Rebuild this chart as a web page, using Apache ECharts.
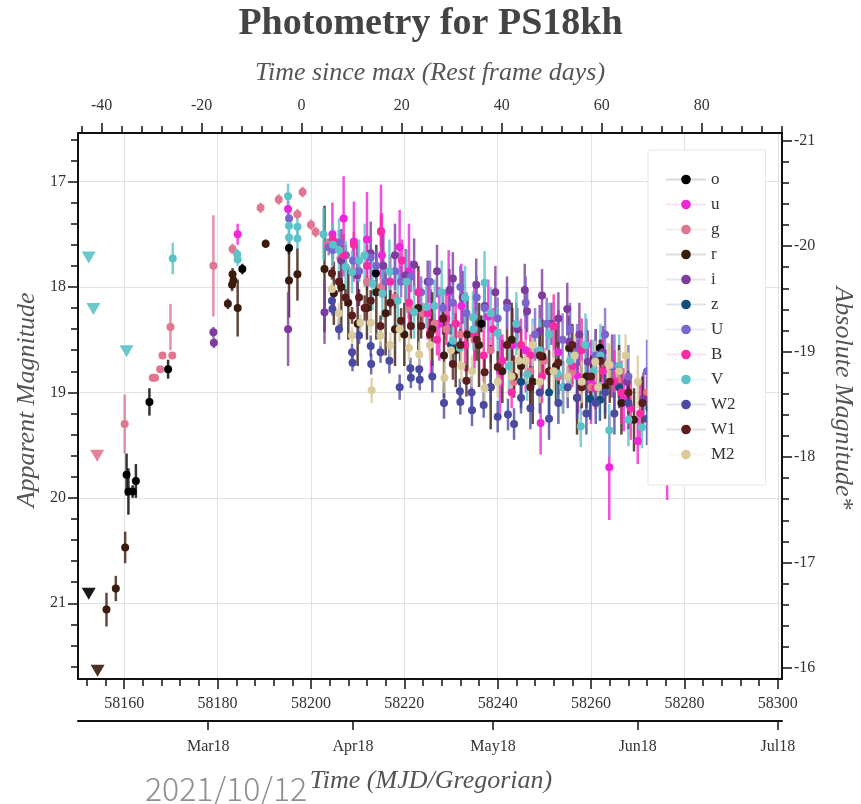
<!DOCTYPE html>
<html>
<head>
<meta charset="utf-8">
<script src="https://cdn.jsdelivr.net/npm/echarts@6/dist/echarts.min.js"></script>
<style>
  html, body { margin: 0; padding: 0; background: #fff; }
  #chart { width: 861px; height: 804px; }
</style>
</head>
<body>
<div id="chart"></div>
<script>
// Photometry of PS18kh: [MJD, apparent magnitude, 1-sigma error]
const bandO = [
  [58160.5, 19.78, 0.20], [58160.9, 19.94, 0.22], [58161.8, 19.94, 0.06],
  [58162.5, 19.84, 0.16], [58165.4, 19.09, 0.13], [58169.4, 18.78, 0.09],
  [58185.3, 17.83, 0.05], [58195.3, 17.63, 0.06], [58213.9, 17.87, 0.05],
  [58236.5, 18.35, 0.08], [58261.9, 18.58, 0.08]
];
const bandu = [
  [58184.3, 17.50, 0.10], [58195.1, 17.26, 0.08], [58204.6, 17.50, 0.30],
  [58207.0, 17.35, 0.40], [58209.2, 17.57, 0.38], [58212.0, 17.55, 0.45],
  [58215.0, 17.48, 0.45], [58215.2, 17.70, 0.40], [58219.0, 17.62, 0.35],
  [58221.0, 17.85, 0.45], [58225.7, 18.42, 0.40], [58227.5, 18.35, 0.35],
  [58229.5, 18.05, 0.40], [58232.2, 18.18, 0.40], [58235.0, 18.40, 0.40],
  [58238.0, 18.28, 0.35], [58240.5, 18.80, 0.40], [58243.2, 18.55, 0.35],
  [58246.0, 18.60, 0.40], [58249.2, 19.29, 0.30], [58253.0, 18.62, 0.40],
  [58257.2, 18.85, 0.35], [58260.0, 18.90, 0.40], [58263.9, 19.71, 0.50],
  [58267.0, 19.07, 0.30], [58270.0, 19.46, 0.22], [58276.3, 19.55, 0.47]
];
const bandg = [
  [58160.1, 19.30, 0.28], [58166.1, 18.86, 0.03], [58166.6, 18.86, 0.03],
  [58167.7, 18.78, 0.03], [58168.2, 18.65, 0.03], [58169.9, 18.38, 0.22],
  [58170.3, 18.65, 0.03], [58179.1, 17.80, 0.48], [58183.2, 17.64, 0.05],
  [58189.2, 17.25, 0.05], [58193.1, 17.17, 0.05], [58197.1, 17.31, 0.05],
  [58198.2, 17.10, 0.05], [58200.0, 17.41, 0.05], [58201.0, 17.48, 0.05],
  [58203.5, 17.60, 0.06], [58206.3, 17.73, 0.06], [58209.0, 17.85, 0.08],
  [58212.0, 17.95, 0.08], [58215.0, 18.00, 0.10], [58218.0, 18.10, 0.10],
  [58221.0, 18.20, 0.10], [58224.0, 18.25, 0.10], [58226.5, 18.35, 0.10],
  [58229.0, 18.40, 0.10], [58232.0, 18.45, 0.12], [58235.0, 18.50, 0.12],
  [58238.5, 18.60, 0.12], [58243.5, 18.90, 0.10], [58247.0, 18.80, 0.12],
  [58250.0, 18.70, 0.12], [58253.0, 18.85, 0.12], [58256.0, 18.80, 0.12],
  [58260.0, 18.95, 0.12], [58265.7, 18.89, 0.10], [58272.0, 19.00, 0.15]
];
const bandr = [
  [58156.2, 21.06, 0.16], [58158.2, 20.86, 0.12], [58160.2, 20.47, 0.15],
  [58182.2, 18.16, 0.05], [58183.2, 17.88, 0.06], [58183.1, 17.98, 0.06],
  [58183.4, 17.94, 0.05], [58184.3, 18.20, 0.27], [58190.3, 17.59, 0.04],
  [58195.3, 17.94, 0.35], [58197.1, 17.88, 0.25], [58202.9, 17.83, 0.60],
  [58204.9, 18.06, 0.30], [58206.5, 18.00, 0.40], [58208.0, 18.15, 0.35],
  [58210.0, 18.35, 0.40], [58212.0, 18.20, 0.30], [58214.0, 18.05, 0.45],
  [58216.0, 18.25, 0.40], [58218.0, 18.40, 0.35], [58220.0, 18.45, 0.30],
  [58223.0, 18.20, 0.40], [58226.0, 18.40, 0.35], [58228.5, 18.65, 0.40],
  [58231.0, 18.60, 0.35], [58233.5, 18.45, 0.35], [58236.0, 18.55, 0.40],
  [58238.5, 18.95, 0.40], [58241.0, 18.80, 0.30], [58243.0, 18.50, 0.35],
  [58245.0, 18.75, 0.35], [58247.5, 18.90, 0.40], [58249.6, 18.66, 0.35],
  [58252.5, 18.75, 0.35], [58255.3, 18.58, 0.30], [58257.0, 19.05, 0.35],
  [58259.0, 18.85, 0.30], [58261.0, 18.70, 0.30], [58263.0, 18.95, 0.30],
  [58266.5, 19.10, 0.30], [58269.2, 19.26, 0.30]
];
const bandi = [
  [58179.1, 18.43, 0.05], [58179.2, 18.53, 0.05], [58195.1, 18.40, 0.35],
  [58202.9, 18.24, 0.30], [58206.5, 17.75, 0.30], [58209.9, 17.89, 0.30],
  [58212.8, 17.68, 0.30], [58215.5, 17.80, 0.30], [58218.0, 17.70, 0.30],
  [58220.3, 17.89, 0.25], [58222.1, 17.79, 0.25], [58225.0, 17.95, 0.20],
  [58227.0, 17.85, 0.25], [58229.7, 18.03, 0.20], [58230.4, 17.92, 0.25],
  [58232.5, 18.10, 0.25], [58235.4, 17.98, 0.25], [58237.2, 18.18, 0.20],
  [58239.5, 18.05, 0.25], [58242.0, 18.15, 0.25], [58244.2, 18.40, 0.20],
  [58245.8, 18.03, 0.25], [58246.3, 18.23, 0.20], [58249.0, 18.42, 0.25],
  [58249.5, 18.08, 0.25], [58251.5, 18.35, 0.20], [58253.0, 18.30, 0.25],
  [58254.9, 18.21, 0.25], [58255.3, 18.52, 0.25], [58257.5, 18.45, 0.30],
  [58259.3, 18.71, 0.30], [58262.5, 18.62, 0.25], [58264.5, 18.75, 0.30],
  [58267.7, 18.90, 0.25], [58271.2, 19.06, 0.25]
];
const bandz = [
  [58230.0, 18.55, 0.20], [58245.0, 18.90, 0.25], [58251.0, 19.00, 0.25],
  [58259.8, 19.06, 0.20], [58261.9, 19.07, 0.20], [58266.0, 18.95, 0.20],
  [58272.5, 19.15, 0.30]
];
const bandUU = [
  [58195.3, 17.35, 0.05], [58203.8, 17.62, 0.08], [58204.7, 17.65, 0.08],
  [58206.0, 17.58, 0.12], [58207.5, 17.70, 0.10], [58209.0, 17.75, 0.15],
  [58210.3, 17.85, 0.10], [58212.8, 17.72, 0.12], [58214.0, 17.80, 0.15],
  [58216.0, 17.95, 0.12], [58218.0, 17.85, 0.18], [58219.3, 17.95, 0.15],
  [58221.4, 17.90, 0.15], [58223.6, 18.05, 0.15], [58225.5, 17.95, 0.20],
  [58228.3, 18.20, 0.15], [58230.4, 18.15, 0.20], [58232.0, 18.00, 0.20],
  [58233.3, 18.25, 0.20], [58235.5, 18.10, 0.20], [58237.2, 18.20, 0.20],
  [58240.0, 18.30, 0.20], [58242.0, 18.20, 0.20], [58244.0, 18.35, 0.20],
  [58246.0, 18.15, 0.25], [58248.0, 18.45, 0.25], [58250.5, 18.35, 0.25],
  [58253.9, 18.50, 0.25], [58255.5, 18.40, 0.25], [58257.0, 18.60, 0.25],
  [58259.0, 18.55, 0.25], [58261.0, 18.65, 0.25], [58263.0, 18.45, 0.25],
  [58265.0, 18.75, 0.30], [58268.0, 18.85, 0.30], [58272.0, 18.80, 0.30]
];
const bandB = [
  [58204.7, 17.55, 0.10], [58207.0, 17.70, 0.20], [58209.2, 17.60, 0.12],
  [58212.0, 17.80, 0.20], [58215.0, 17.47, 0.15], [58217.0, 17.95, 0.25],
  [58219.5, 17.75, 0.20], [58221.0, 18.15, 0.25], [58223.0, 18.05, 0.20],
  [58225.0, 18.25, 0.25], [58227.0, 18.50, 0.15], [58229.0, 18.30, 0.25],
  [58231.0, 18.35, 0.20], [58233.0, 18.55, 0.25], [58235.0, 18.45, 0.25],
  [58237.0, 18.65, 0.25], [58239.0, 18.40, 0.20], [58241.0, 18.70, 0.25],
  [58243.0, 19.00, 0.15], [58245.0, 18.55, 0.25], [58247.0, 18.65, 0.20],
  [58249.5, 18.85, 0.25], [58252.0, 18.37, 0.30], [58254.0, 18.95, 0.25],
  [58256.0, 18.75, 0.20], [58258.0, 18.60, 0.30], [58260.9, 18.96, 0.20],
  [58262.5, 18.80, 0.30], [58265.0, 18.90, 0.30], [58266.5, 19.00, 0.30],
  [58268.5, 19.15, 0.30], [58270.5, 19.20, 0.30]
];
const bandV = [
  [58170.4, 17.73, 0.15], [58184.3, 17.74, 0.06], [58184.2, 17.69, 0.05],
  [58195.1, 17.14, 0.12], [58195.3, 17.42, 0.10], [58195.3, 17.53, 0.10],
  [58197.1, 17.43, 0.10], [58197.1, 17.54, 0.10], [58202.7, 17.50, 0.25],
  [58204.7, 17.60, 0.20], [58206.0, 17.65, 0.30], [58207.4, 17.81, 0.25],
  [58208.8, 17.86, 0.20], [58210.3, 17.75, 0.20], [58211.5, 17.70, 0.30],
  [58213.2, 17.97, 0.25], [58215.3, 18.06, 0.25], [58216.8, 17.85, 0.30],
  [58218.6, 18.13, 0.30], [58220.5, 17.95, 0.30], [58222.1, 18.24, 0.25],
  [58224.7, 18.19, 0.20], [58226.5, 18.18, 0.25], [58228.0, 18.05, 0.30],
  [58230.4, 18.51, 0.25], [58231.9, 18.58, 0.20], [58233.0, 18.10, 0.30],
  [58234.7, 18.29, 0.25], [58234.8, 18.40, 0.20], [58237.2, 17.96, 0.30],
  [58238.5, 18.25, 0.25], [58240.0, 18.44, 0.25], [58242.4, 18.75, 0.25],
  [58244.0, 18.35, 0.30], [58246.3, 18.83, 0.25], [58247.5, 18.55, 0.25],
  [58249.0, 18.60, 0.30], [58251.0, 18.45, 0.30], [58252.8, 18.82, 0.25],
  [58254.0, 18.95, 0.25], [58255.5, 18.70, 0.25], [58257.8, 19.32, 0.20],
  [58258.8, 18.55, 0.30], [58260.5, 18.80, 0.30], [58262.0, 18.65, 0.30],
  [58263.9, 19.36, 0.25], [58266.0, 18.75, 0.30], [58268.0, 19.26, 0.25],
  [58270.9, 19.33, 0.20]
];
const bandW2 = [
  [58204.5, 18.13, 0.06], [58204.6, 18.21, 0.06], [58206.0, 18.40, 0.10],
  [58208.8, 18.62, 0.08], [58208.9, 18.72, 0.08], [58210.3, 18.46, 0.08],
  [58212.8, 18.56, 0.10], [58212.9, 18.73, 0.10], [58214.9, 18.62, 0.10],
  [58216.8, 18.70, 0.12], [58219.0, 18.95, 0.12], [58221.3, 18.77, 0.10],
  [58221.4, 18.86, 0.10], [58223.2, 18.78, 0.10], [58223.3, 18.88, 0.10],
  [58226.0, 18.85, 0.15], [58228.5, 19.10, 0.15], [58231.9, 18.99, 0.12],
  [58232.0, 19.09, 0.12], [58234.4, 19.00, 0.15], [58234.5, 19.17, 0.15],
  [58237.0, 19.12, 0.12], [58238.5, 18.95, 0.15], [58240.0, 19.23, 0.15],
  [58242.2, 19.21, 0.15], [58243.5, 19.30, 0.15], [58245.0, 19.05, 0.15],
  [58247.0, 19.15, 0.20], [58249.0, 19.00, 0.20], [58251.0, 19.25, 0.20],
  [58253.0, 19.10, 0.20], [58255.0, 18.95, 0.20], [58257.0, 19.05, 0.20],
  [58259.0, 19.20, 0.20], [58261.0, 19.10, 0.20], [58263.0, 19.00, 0.20],
  [58265.0, 19.20, 0.20], [58268.0, 19.10, 0.25], [58272.0, 19.25, 0.25]
];
const bandW1 = [
  [58204.5, 17.87, 0.06], [58206.0, 17.95, 0.10], [58207.4, 18.10, 0.08],
  [58208.8, 18.27, 0.08], [58210.3, 18.10, 0.08], [58211.5, 18.20, 0.12],
  [58212.8, 18.13, 0.10], [58214.9, 18.37, 0.10], [58217.0, 18.15, 0.12],
  [58219.3, 18.32, 0.12], [58221.4, 18.37, 0.12], [58223.6, 18.37, 0.12],
  [58225.5, 18.45, 0.15], [58228.3, 18.30, 0.15], [58230.4, 18.73, 0.15],
  [58232.0, 18.55, 0.15], [58233.3, 18.89, 0.15], [58235.5, 18.50, 0.20],
  [58237.2, 18.81, 0.15], [58240.0, 18.76, 0.15], [58242.0, 18.55, 0.15],
  [58243.5, 18.85, 0.20], [58245.0, 18.70, 0.15], [58247.0, 18.95, 0.20],
  [58249.0, 18.65, 0.20], [58251.0, 18.80, 0.20], [58253.0, 18.72, 0.20],
  [58256.0, 18.55, 0.20], [58258.0, 18.95, 0.20], [58260.0, 18.85, 0.20],
  [58262.0, 18.70, 0.20], [58264.0, 18.90, 0.20], [58266.0, 18.80, 0.25],
  [58268.0, 19.00, 0.20], [58271.0, 19.10, 0.25]
];
const bandM2 = [
  [58204.5, 18.02, 0.06], [58206.0, 18.25, 0.10], [58208.8, 18.46, 0.08],
  [58210.6, 18.34, 0.08], [58212.8, 18.34, 0.10], [58213.0, 18.98, 0.12],
  [58214.9, 18.46, 0.10], [58217.0, 18.55, 0.12], [58219.0, 18.40, 0.12],
  [58221.0, 18.58, 0.12], [58223.2, 18.64, 0.12], [58225.5, 18.55, 0.15],
  [58228.6, 18.86, 0.15], [58230.0, 18.60, 0.15], [58232.2, 18.75, 0.15],
  [58234.5, 18.80, 0.15], [58237.2, 18.96, 0.15], [58240.0, 18.90, 0.15],
  [58243.0, 18.85, 0.15], [58244.5, 18.70, 0.20], [58246.0, 18.70, 0.20],
  [58247.5, 18.55, 0.20], [58249.0, 18.90, 0.20], [58252.0, 18.80, 0.20],
  [58255.0, 18.85, 0.20], [58256.5, 18.65, 0.20], [58258.0, 18.90, 0.20],
  [58260.9, 18.71, 0.20], [58261.5, 18.95, 0.20], [58263.7, 18.73, 0.20],
  [58264.0, 18.74, 0.20], [58266.0, 18.80, 0.20], [58267.4, 18.65, 0.20],
  [58270.0, 18.90, 0.25]
];

// Non-detections (upper limits): [MJD, limiting magnitude]
const limO = [[58152.4, 20.91]];
const limg = [[58154.2, 19.60]];
const limr = [[58154.3, 21.64]];
const limV = [[58152.4, 17.72], [58153.4, 18.21], [58160.5, 18.61]];

// Filters in legend order with their colours
const bandNames = ['o', 'u', 'g', 'r', 'i', 'z', 'U', 'B', 'V', 'W2', 'W1', 'M2'];
const bandColors = ['#000000', '#ec26d9', '#e0768f', '#3a1c0e', '#7e3d9e', '#0f4f7f',
                    '#7b66cf', '#f92aa6', '#5bc3c8', '#4a4aa0', '#5a1c1c', '#dacb9f'];
const bandData = [bandO, bandu, bandg, bandr, bandi, bandz, bandUU, bandB, bandV, bandW2, bandW1, bandM2];
const bandLimits = { o: limO, g: limg, r: limr, V: limV };

// Axis ticks and labels
const mjdTicks = [58160, 58180, 58200, 58220, 58240, 58260, 58280, 58300];
const restTicks = [-40, -20, 0, 20, 40, 60, 80];
const appTicks = [17, 18, 19, 20, 21];
const absTicks = [-21, -20, -19, -18, -17, -16];
const monthTicks = [58178, 58209, 58239, 58270, 58300];
const monthLabels = ['Mar18', 'Apr18', 'May18', 'Jun18', 'Jul18'];

// Cosmology for the secondary scales
const mjdPeak = 58198.0;
const onePlusZ = 1.0714;
const distMod = 37.613;

const mjdMin = 58150.1, mjdMax = 58300.9;
const magMin = 16.540, magMax = 21.718;

function range(a, b, step, skip) {
  const out = [];
  for (let v = a; v <= b + 1e-9; v += step) {
    const r = Math.round(v * 1000) / 1000;
    if (!skip(r)) out.push(r);
  }
  return out;
}
const mjdMinor = range(58152, 58300, 4, v => (v - 58160) % 20 === 0);
const restMinor = range(-44, 96, 4, v => v % 20 === 0);
const appMinor = range(16.6, 21.6, 0.2, v => Math.abs(v - Math.round(v)) < 1e-6);
const absMinor = range(-21.0, -15.9, 0.2, v => Math.abs(v - Math.round(v)) < 1e-6);

const serif = "'Liberation Serif', 'Times New Roman', serif";
const lineCol = '#111';
const labelStyle = { fontFamily: serif, fontSize: 16, color: '#333' };

function helperAxis(base, values, length) {
  return Object.assign({
    type: 'value',
    axisLine: { show: false },
    axisLabel: { show: false },
    splitLine: { show: false },
    axisTick: { show: true, customValues: values, length: length, lineStyle: { color: lineCol, width: 1.5 } }
  }, base);
}

const xAxes = [
  { // MJD
    type: 'value', position: 'bottom', min: mjdMin, max: mjdMax,
    axisLine: { show: true, onZero: false, lineStyle: { color: lineCol, width: 2 } },
    axisTick: { show: true, customValues: mjdTicks, length: 10, lineStyle: { color: lineCol, width: 1.5 } },
    axisLabel: Object.assign({ customValues: mjdTicks, margin: 17, formatter: v => String(Math.round(v)) }, labelStyle),
    splitLine: { show: true, lineStyle: { color: '#e2e2e2', width: 1 } }
  },
  helperAxis({ position: 'bottom', min: mjdMin, max: mjdMax, axisLine: { show: false, onZero: false } }, mjdMinor, 7),
  { // calendar months
    type: 'value', position: 'bottom', offset: 42, min: mjdMin, max: mjdMax,
    axisLine: { show: true, onZero: false, lineStyle: { color: lineCol, width: 2 } },
    axisTick: { show: true, customValues: monthTicks, length: 9, lineStyle: { color: lineCol, width: 1.5 } },
    axisLabel: Object.assign({
      customValues: monthTicks, margin: 18,
      formatter: v => monthLabels[monthTicks.indexOf(Math.round(v))] || ''
    }, labelStyle),
    splitLine: { show: false }
  },
  { // rest-frame days since maximum
    type: 'value', position: 'top',
    min: (mjdMin - mjdPeak) / onePlusZ, max: (mjdMax - mjdPeak) / onePlusZ,
    axisLine: { show: true, onZero: false, lineStyle: { color: lineCol, width: 2 } },
    axisTick: { show: true, customValues: restTicks, length: 10, lineStyle: { color: lineCol, width: 1.5 } },
    axisLabel: Object.assign({ customValues: restTicks, margin: 19 }, labelStyle),
    splitLine: { show: false }
  },
  helperAxis({ position: 'top', min: (mjdMin - mjdPeak) / onePlusZ, max: (mjdMax - mjdPeak) / onePlusZ,
               axisLine: { show: false, onZero: false } }, restMinor, 7)
];

const yAxes = [
  { // apparent magnitude
    type: 'value', position: 'left', inverse: true, min: magMin, max: magMax,
    axisLine: { show: true, onZero: false, lineStyle: { color: lineCol, width: 2 } },
    axisTick: { show: true, customValues: appTicks, length: 10, lineStyle: { color: lineCol, width: 1.5 } },
    axisLabel: Object.assign({ customValues: appTicks, margin: 12 }, labelStyle),
    splitLine: { show: true, lineStyle: { color: '#e2e2e2', width: 1 } }
  },
  helperAxis({ position: 'left', inverse: true, min: magMin, max: magMax, axisLine: { show: false, onZero: false } }, appMinor, 7),
  { // absolute magnitude
    type: 'value', position: 'right', inverse: true, min: magMin - distMod, max: magMax - distMod,
    axisLine: { show: true, onZero: false, lineStyle: { color: lineCol, width: 2 } },
    axisTick: { show: true, customValues: absTicks, length: 10, lineStyle: { color: lineCol, width: 1.5 } },
    axisLabel: Object.assign({ customValues: absTicks, margin: 12 }, labelStyle),
    splitLine: { show: false }
  },
  helperAxis({ position: 'right', inverse: true, min: magMin - distMod, max: magMax - distMod,
               axisLine: { show: false, onZero: false } }, absMinor, 7)
];

const series = [];
bandNames.forEach((name, k) => {
  const color = bandColors[k];
  series.push({
    name: name + ' error',
    type: 'custom',
    xAxisIndex: 0, yAxisIndex: 0,
    clip: true,
    silent: true,
    data: bandData[k],
    encode: { x: 0, y: 1 },
    renderItem: (params, api) => {
      const x = api.value(0), m = api.value(1), e = api.value(2);
      const p1 = api.coord([x, m - e]);
      const p2 = api.coord([x, m + e]);
      return {
        type: 'line',
        shape: { x1: p1[0], y1: p1[1], x2: p2[0], y2: p2[1] },
        style: { stroke: color, lineWidth: 2.5, opacity: 0.8 }
      };
    }
  });
  series.push({
    name: name,
    type: 'line',
    xAxisIndex: 0, yAxisIndex: 0,
    data: bandData[k].map(d => [d[0], d[1]]),
    symbol: 'circle',
    symbolSize: 8,
    showSymbol: true,
    showAllSymbol: true,
    clip: true,
    silent: true,
    color: color,
    itemStyle: { color: color },
    lineStyle: { opacity: 0, width: 0 },
    emphasis: { disabled: true }
  });
  if (bandLimits[name]) {
    series.push({
      name: name + ' limit',
      type: 'scatter',
      xAxisIndex: 0, yAxisIndex: 0,
      data: bandLimits[name],
      symbol: 'triangle',
      symbolRotate: 180,
      symbolSize: [14, 12],
      itemStyle: { color: color, opacity: 0.9 },
      silent: true
    });
  }
});

const chart = echarts.init(document.getElementById('chart'), null, { renderer: 'canvas' });
chart.setOption({
  animation: false,
  backgroundColor: '#ffffff',
  grid: { left: 78, top: 133, width: 704, height: 546, containLabel: false },
  xAxis: xAxes,
  yAxis: yAxes,
  legend: {
    data: bandNames,
    orient: 'vertical',
    left: 648, top: 150,
    padding: [21, 30, 22, 17],
    itemWidth: 40, itemHeight: 12, itemGap: 8,
    backgroundColor: '#ffffff',
    borderColor: '#e6e6e6', borderWidth: 1,
    lineStyle: { width: 2, opacity: 0.15 },
    textStyle: { fontFamily: serif, fontSize: 17, color: '#333', lineHeight: 16 },
    selectedMode: false
  },
  graphic: [
    { type: 'text', left: 'center', top: 5,
      style: { text: 'Photometry for PS18kh', font: "bold 38px " + serif, fill: '#444' } },
    { type: 'text', x: 430, y: 73,
      style: { text: 'Time since max (Rest frame days)', font: "italic 26px " + serif, fill: '#555',
               textAlign: 'center', textVerticalAlign: 'middle' } },
    { type: 'text', x: 431, y: 781,
      style: { text: 'Time (MJD/Gregorian)', font: "italic 26px " + serif, fill: '#555',
               textAlign: 'center', textVerticalAlign: 'middle' } },
    { type: 'text', x: 27, y: 400, rotation: Math.PI / 2,
      style: { text: 'Apparent Magnitude', font: "italic 26px " + serif, fill: '#555',
               textAlign: 'center', textVerticalAlign: 'middle' } },
    { type: 'text', x: 843, y: 398, rotation: -Math.PI / 2,
      style: { text: 'Absolute Magnitude*', font: "italic 26px " + serif, fill: '#555',
               textAlign: 'center', textVerticalAlign: 'middle' } },
    { type: 'text', x: 145, y: 789, z: 100,
      style: { text: '2021/10/12', font: "300 32px 'Noto Sans CJK SC', 'Noto Sans', sans-serif", fill: '#8e8e8e',
               textAlign: 'left', textVerticalAlign: 'middle' } }
  ],
  series: series
});
</script>
</body>
</html>
